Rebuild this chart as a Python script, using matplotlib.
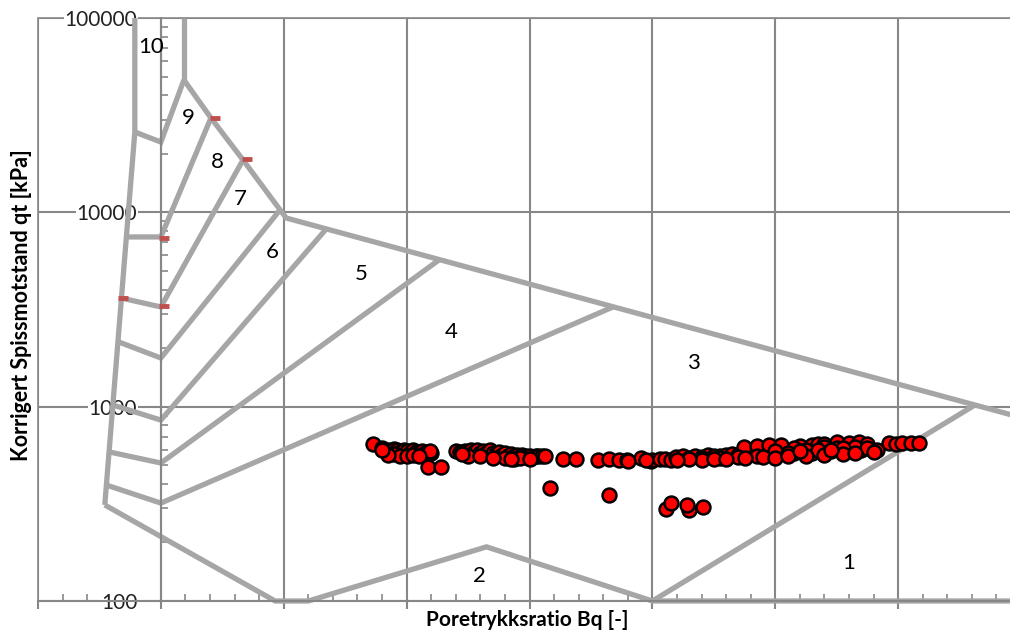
import matplotlib
matplotlib.use("Agg")
import matplotlib.pyplot as plt
from matplotlib.ticker import MultipleLocator, LogLocator, NullFormatter, FixedLocator

plt.rcParams['font.family'] = ['Lato', 'DejaVu Sans']

# ---- zone boundaries (Bq, qt) ----
left_bq = [-0.0424, -0.0424, -0.0913]
left_qt = [100000, 25900, 312]
z10_bq = [0.0375, 0.0375]
z10_qt = [100000, 48000]
upper_bq = [0.0375, 0.0815, 0.1337, 0.194, 0.204, 1.325, 1.40]
upper_qt = [48000, 30600, 18600, 10300, 9350, 1020, 880]
b9_bq = [-0.0424, 0.0, 0.0375]
b9_qt = [25900, 23000, 48000]
b8_bq = [-0.0561, 0.0, 0.0815]
b8_qt = [7470, 7470, 30600]
b7_bq = [-0.0641, 0.0, 0.1337]
b7_qt = [3620, 3260, 18600]
b6_bq = [-0.0699, 0.0, 0.194]
b6_qt = [2160, 1780, 10300]
b5_bq = [-0.0782, 0.0, 0.269]
b5_qt = [1020, 853, 8200]
b4_bq = [-0.0843, 0.0, 0.453]
b4_qt = [585, 513, 5700]
b3_bq = [-0.0887, 0.0, 0.737]
b3_qt = [395, 319, 3270]
bottom_bq = [-0.0913, 0.186, 0.24, 0.53, 0.80, 1.40]
bottom_qt = [312, 100, 100, 190, 100, 100]
b1_bq = [0.80, 1.325]
b1_qt = [100, 1020]

# ---- zone labels ----
zone_names = ['10', '9', '8', '7', '6', '5', '4', '3', '2', '1']
zone_bq = [-0.0163, 0.044, 0.0913, 0.1288, 0.181, 0.326, 0.4727, 0.867, 0.518, 1.12]
zone_qt = [71000, 30600, 18200, 11700, 6250, 4820, 2420, 1680, 134.5, 157]

# ---- small red markers ----
mark_bq = [0.088, 0.140, 0.005, -0.062, 0.005]
mark_qt = [30600, 18800, 7380, 3620, 3300]

# ---- measured CPT data ----
data_bq = [
    0.345, 0.36, 0.37, 0.375, 0.38, 0.385, 0.39, 0.395, 0.40, 0.405, 0.41, 0.415,
    0.42, 0.425, 0.43, 0.435, 0.44, 0.438, 0.38, 0.39, 0.435, 0.456,
    0.37, 0.40, 0.41, 0.42, 0.36,
    0.481, 0.487, 0.49, 0.495, 0.50, 0.505, 0.51, 0.515, 0.517, 0.52, 0.525, 0.53,
    0.536, 0.54, 0.545, 0.55, 0.555, 0.56, 0.565, 0.57, 0.575, 0.58, 0.587, 0.59,
    0.595, 0.60, 0.61, 0.614, 0.62, 0.626, 0.56, 0.575, 0.585,
    0.50, 0.52, 0.54, 0.57, 0.60, 0.49,
    0.655, 0.676, 0.712, 0.729, 0.745, 0.758, 0.781, 0.797, 0.80, 0.813, 0.82,
    0.83, 0.838, 0.85, 0.86, 0.87, 0.88, 0.89, 0.90, 0.91, 0.92, 0.93, 0.94,
    0.95, 0.96, 0.97, 0.98, 0.99,
    0.949, 0.97, 0.99, 1.01, 1.04, 1.06, 1.07, 1.08, 1.10, 1.12, 1.136, 1.149,
    1.165, 1.185, 1.196, 1.206, 1.221, 1.234,
    0.88, 0.91, 0.94, 0.97, 1.00, 1.03, 1.06, 1.09, 1.12, 1.14, 1.00, 1.05,
    1.10, 1.03, 1.08, 1.13, 1.15, 1.02, 1.07, 1.11,
    0.88, 0.90, 0.92, 0.95, 0.98, 1.00, 1.02, 1.05, 1.08, 1.11, 1.13, 1.16,
    1.04, 1.09, 0.86, 0.84, 0.76, 0.79,
    0.634, 0.729, 0.8215, 0.831, 0.859, 0.857, 0.883,
]
data_qt = [
    640, 615, 600, 590, 605, 595, 585, 600, 590, 580, 595, 585,
    575, 590, 580, 585, 575, 590, 570, 560, 490, 490,
    565, 560, 565, 560, 600,
    590, 585, 575, 590, 580, 595, 585, 600, 565, 580, 590, 575,
    600, 580, 570, 585, 565, 575, 560, 570, 555, 565, 565, 550,
    560, 555, 560, 560, 555, 560, 545, 540, 545,
    560, 555, 545, 540, 540, 570,
    540, 540, 530, 540, 530, 530, 545, 525, 530, 535, 540,
    530, 550, 555, 545, 560, 550, 565, 560, 555, 565, 570, 565,
    565, 570, 575, 565, 570,
    620, 630, 635, 635, 630, 635, 640, 645, 655, 650, 660, 645,
    598, 650, 645, 650, 650, 650,
    545, 545, 550, 560, 565, 575, 580, 590, 590, 600, 590, 600,
    610, 610, 620, 620, 610, 580, 600, 615,
    530, 540, 535, 545, 550, 545, 555, 560, 565, 570, 575, 585,
    590, 600, 535, 530, 525, 530,
    381, 351, 297, 319, 294, 312, 305,
]

grid_col = '#878787'
zone_col = '#A6A6A6'

fig = plt.figure(figsize=(10.10, 6.33), dpi=100)
ax = fig.add_axes([38 / 1010, 32 / 633, 983 / 1010, 583 / 633])
ax.set_yscale('log')
ax.set_xlim(-0.2, 1.4)
ax.set_ylim(100, 100000)

# frame of plot area
ax.patch.set_edgecolor(grid_col)
ax.patch.set_linewidth(1.2)
for s in ['top', 'right']:
    ax.spines[s].set_visible(False)
ax.spines['left'].set_position(('data', 0))
ax.spines['left'].set_color(grid_col)
ax.spines['left'].set_linewidth(1.5)
ax.spines['bottom'].set_color(grid_col)
ax.spines['bottom'].set_linewidth(1.5)

ax.xaxis.set_major_locator(MultipleLocator(0.2))
ax.xaxis.set_minor_locator(MultipleLocator(0.04))
ax.yaxis.set_major_locator(FixedLocator([100, 1000, 10000, 100000]))
ax.yaxis.set_minor_locator(LogLocator(base=10, subs=range(2, 10)))
ax.yaxis.set_minor_formatter(NullFormatter())
ax.set_yticklabels(['100', '1000', '10000', '100000'])
ax.tick_params(axis='x', which='major', direction='out', length=6, width=1.5,
               color=grid_col, labelbottom=False)
ax.tick_params(axis='x', which='minor', direction='in', length=5, width=1.2,
               color=grid_col)
ax.tick_params(axis='y', which='major', length=0, pad=17, labelsize=15,
               labelcolor='#222222')
ax.tick_params(axis='y', which='minor', direction='in', length=5, width=1.2,
               color=grid_col)
for lab in ax.get_yticklabels():
    lab.set_bbox(dict(facecolor='white', edgecolor='none', pad=0.5))

ax.grid(True, which='major', color=grid_col, linewidth=1.5)
ax.set_axisbelow(True)

zlw = 3.8
for bx, by in [(left_bq, left_qt), (z10_bq, z10_qt), (upper_bq, upper_qt),
               (b9_bq, b9_qt), (b8_bq, b8_qt), (b7_bq, b7_qt), (b6_bq, b6_qt),
               (b5_bq, b5_qt), (b4_bq, b4_qt), (b3_bq, b3_qt),
               (bottom_bq, bottom_qt), (b1_bq, b1_qt)]:
    ax.plot(bx, by, color=zone_col, lw=zlw, solid_joinstyle='miter',
            solid_capstyle='butt', zorder=2, clip_on=False)

ax.plot(mark_bq, mark_qt, linestyle='none', marker='_', markersize=7,
        markeredgewidth=3.5, color='#C0504D', zorder=3)

for name, zx, zy in zip(zone_names, zone_bq, zone_qt):
    ax.text(zx, zy, name, fontsize=16, ha='center', va='center', color='black',
            zorder=4)

ax.plot(data_bq, data_qt, linestyle='none', marker='o', markersize=10,
        markerfacecolor='#FF0000', markeredgecolor='black', markeredgewidth=1.8,
        zorder=5)

fig.text(527 / 1010, 1 - 620 / 633, 'Poretrykksratio Bq [-]', fontsize=15,
         fontweight='bold', ha='center', va='center')
fig.text(22 / 1010, 1 - 305 / 633, 'Korrigert Spissmotstand qt [kPa]',
         fontsize=15.5, fontweight='bold', rotation=90, ha='center', va='center')

fig.savefig('out.png', dpi=100)
